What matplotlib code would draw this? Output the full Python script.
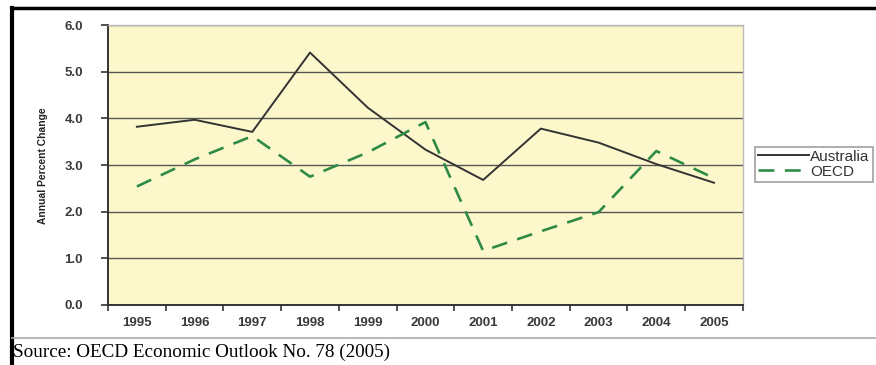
import matplotlib
matplotlib.use("Agg")
import matplotlib.pyplot as plt
from matplotlib.lines import Line2D

years = ["1995", "1996", "1997", "1998", "1999", "2000",
         "2001", "2002", "2003", "2004", "2005"]
australia = [3.82, 3.97, 3.71, 5.41, 4.23, 3.33, 2.68, 3.78, 3.48, 3.02, 2.62]
oecd = [2.54, 3.12, 3.62, 2.75, 3.27, 3.92, 1.16, 1.58, 1.99, 3.30, 2.72]
yticks = [0, 1, 2, 3, 4, 5, 6]

fig = plt.figure(figsize=(8.76, 3.65), dpi=100)
ax = fig.add_axes([0.1233, 0.1644, 0.7247, 0.767])
ax.set_facecolor("#fdf8cc")

x = list(range(len(years)))
ax.plot(x, australia, color="#333333", lw=1.4, label="Australia")
ax.plot(x, oecd, color="#2e8b47", lw=1.9, dashes=(6, 4), label="OECD")

ax.set_xlim(-0.5, len(years) - 0.5)
ax.set_ylim(0, 6)
ax.set_yticks(yticks)
ax.set_yticklabels(["%.1f" % v for v in yticks], fontsize=9.5,
                   fontweight="bold", color="#3a3a3a", family="Liberation Sans")
ax.yaxis.grid(True, color="#555555", lw=1.0)
ax.set_axisbelow(True)

ax.set_xticks([i - 0.5 for i in range(len(years) + 1)])
ax.set_xticklabels([])
ax.set_xticks(x, minor=True)
ax.set_xticklabels(years, minor=True, fontsize=9.5, fontweight="bold",
                   color="#3a3a3a", family="Liberation Sans")
ax.tick_params(axis="x", which="minor", length=0, pad=9)
ax.tick_params(axis="x", which="major", length=4, direction="out",
               color="#333333", width=1.2)
ax.tick_params(axis="y", length=5, direction="out", color="#333333",
               width=1.2, pad=13)

for s in ["left", "bottom"]:
    ax.spines[s].set_color("#333333")
    ax.spines[s].set_linewidth(1.4)
for s in ["right", "top"]:
    ax.spines[s].set_color("#bbbbbb")
    ax.spines[s].set_linewidth(1.0)

fig.text(0.049, 0.545, "Annual Percent Change", rotation=90, ha="center",
         va="center", fontsize=7.4, fontweight="bold", color="#222222",
         family="Liberation Sans")

leg = fig.legend(loc="upper left", bbox_to_anchor=(0.862, 0.598),
                 frameon=True, fancybox=False,
                 handlelength=3.3, handletextpad=0.1, borderpad=0.2,
                 borderaxespad=0, labelspacing=0.05,
                 prop={"family": "Liberation Sans", "size": 11})
leg.get_frame().set_edgecolor("#888888")
leg.get_frame().set_linewidth(1.2)
for t in leg.get_texts():
    t.set_color("#333333")

# outer frame lines of the scanned figure
fig.add_artist(Line2D([0.0137, 0.0137], [0, 0.978], color="black", lw=3))
fig.add_artist(Line2D([0.0137, 1.0], [0.978, 0.978], color="black", lw=2.5))
fig.add_artist(Line2D([0.0137, 1.0], [0.074, 0.074], color="#aaaaaa", lw=1.2))

fig.text(0.015, 0.035, "Source: OECD Economic Outlook No. 78 (2005)",
         fontsize=13.8, family="Liberation Serif", va="center")

fig.savefig("out.png", dpi=100)
